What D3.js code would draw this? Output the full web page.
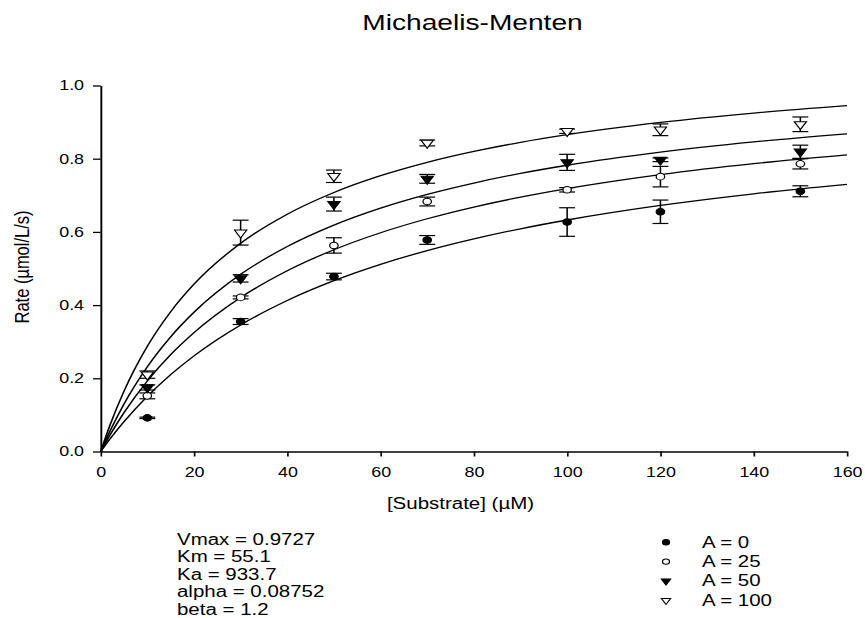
<!DOCTYPE html>
<html>
<head>
<meta charset="utf-8">
<script src="https://cdn.jsdelivr.net/npm/d3@7"></script>
<style>
  html, body { margin: 0; padding: 0; background: #fff; }
  svg { display: block; }
  text { font-family: "Liberation Sans", Arial, Helvetica, sans-serif; fill: #000; }
</style>
</head>
<body>
<div id="chart"></div>
<script>
// ---------- data ----------
const title = "Michaelis-Menten";
const xLabel = "[Substrate] (µM)";
const yLabel = "Rate (µmol/L/s)";
const xTicks = [0, 20, 40, 60, 80, 100, 120, 140, 160];
const yTicks = [0.0, 0.2, 0.4, 0.6, 0.8, 1.0];

const substrate = [10, 30, 50, 70, 100, 120, 150];
const rateA0   = [0.092, 0.355, 0.478, 0.578, 0.627, 0.655, 0.711];
const errA0    = [0.002, 0.008, 0.009, 0.012, 0.039, 0.032, 0.015];
const rateA25  = [0.152, 0.421, 0.563, 0.683, 0.715, 0.751, 0.786];
const errA25   = [0.008, 0.004, 0.021, 0.012, 0.006, 0.028, 0.014];
const rateA50  = [0.175, 0.473, 0.676, 0.745, 0.790, 0.797, 0.819];
const errA50   = [0.007, 0.010, 0.019, 0.012, 0.022, 0.005, 0.018];
const rateA100 = [0.210, 0.598, 0.752, 0.843, 0.875, 0.879, 0.894];
const errA100  = [0.010, 0.034, 0.017, 0.008, 0.006, 0.016, 0.020];

// fitted curves
const curveS   = [0, 2, 5, 10, 15, 20, 30, 40, 50, 60, 70, 80, 90, 100, 120, 140, 160];
const fitA0    = [0, 0.0344, 0.0816, 0.1507, 0.2099, 0.2613, 0.3458, 0.4126, 0.4667, 0.5114, 0.5489, 0.5809, 0.6085, 0.6325, 0.6723, 0.7040, 0.7297];
const fitA25   = [0, 0.0453, 0.1063, 0.1927, 0.2644, 0.3247, 0.4208, 0.4939, 0.5513, 0.5977, 0.6359, 0.6679, 0.6951, 0.7185, 0.7567, 0.7866, 0.8106];
const fitA50   = [0, 0.0561, 0.1300, 0.2317, 0.3134, 0.3804, 0.4840, 0.5602, 0.6187, 0.6650, 0.7026, 0.7336, 0.7598, 0.7821, 0.8180, 0.8458, 0.8680];
const fitA100  = [0, 0.0724, 0.1650, 0.2874, 0.3819, 0.4571, 0.5690, 0.6483, 0.7076, 0.7535, 0.7901, 0.8199, 0.8448, 0.8658, 0.8993, 0.9248, 0.9450];

const seriesNames = ["A = 0", "A = 25", "A = 50", "A = 100"];
const paramLines = ["Vmax = 0.9727", "Km = 55.1", "Ka = 933.7", "alpha = 0.08752", "beta = 1.2"];

// ---------- layout ----------
const W = 865, H = 618;
const SX = 1.28;               // the reference is horizontally stretched
const IW = W / SX;             // internal width
const sx = v => v / SX;        // screen x -> internal x

const svg = d3.select("#chart").append("svg")
  .attr("width", W).attr("height", H)
  .attr("viewBox", `0 0 ${IW} ${H}`)
  .attr("preserveAspectRatio", "none");

const x = d3.scaleLinear().domain([0, 160]).range([sx(100.7), sx(847)]);
const y = d3.scaleLinear().domain([0, 1]).range([451.5, 85.5]);

const series = [
  { name: seriesNames[0], rate: rateA0,   err: errA0,   fit: fitA0,   shape: "circle",   filled: true },
  { name: seriesNames[1], rate: rateA25,  err: errA25,  fit: fitA25,  shape: "circle",   filled: false },
  { name: seriesNames[2], rate: rateA50,  err: errA50,  fit: fitA50,  shape: "triangle", filled: true },
  { name: seriesNames[3], rate: rateA100, err: errA100, fit: fitA100, shape: "triangle", filled: false },
];

// ---------- title ----------
svg.append("text")
  .attr("x", sx(472.5)).attr("y", 30)
  .attr("text-anchor", "middle")
  .attr("font-size", 22)
  .text(title);

// ---------- axes ----------
const xAxis = svg.append("g")
  .attr("transform", `translate(0,${y(0)})`)
  .call(d3.axisBottom(x).tickValues(xTicks).tickSize(5).tickSizeOuter(0).tickPadding(11)
        .tickFormat(d3.format("d")));
const yAxis = svg.append("g")
  .attr("transform", `translate(${x(0)},0)`)
  .call(d3.axisLeft(y).tickValues(yTicks).tickSize(6).tickSizeOuter(0).tickPadding(7)
        .tickFormat(d3.format(".1f")));

[xAxis, yAxis].forEach(g => {
  g.selectAll("path.domain").attr("stroke", "#000").attr("stroke-width", 1.5);
  g.selectAll(".tick line").attr("stroke", "#000").attr("stroke-width", 1.3);
  g.selectAll(".tick text")
    .attr("font-size", 14)
    .attr("font-family", "Liberation Sans, Arial, sans-serif")
    .attr("fill", "#000");
});

// axis titles
svg.append("text")
  .attr("x", sx(460.5)).attr("y", 509)
  .attr("text-anchor", "middle")
  .attr("font-size", 16)
  .text(xLabel);

svg.append("text")
  .attr("transform", `translate(${sx(28.5)},267) rotate(-90)`)
  .attr("text-anchor", "middle")
  .attr("font-size", 16.5)
  .text(yLabel);

// ---------- curves ----------
const line = d3.line()
  .x((d, i) => x(curveS[i]))
  .y(d => y(d))
  .curve(d3.curveMonotoneX);

svg.append("g").selectAll("path")
  .data(series)
  .join("path")
  .attr("d", s => line(s.fit))
  .attr("fill", "none")
  .attr("stroke", "#000")
  .attr("stroke-width", 1.3);

// ---------- error bars & markers ----------
const capHalf = 6.2;
function triPath(w, h) {
  // downward triangle, centred on its centroid
  return `M${-w / 2},${-h / 3}L${w / 2},${-h / 3}L0,${2 * h / 3}Z`;
}
function drawMarker(g, s, cx, cy, small) {
  if (s.shape === "circle") {
    g.append("circle")
      .attr("cx", cx).attr("cy", cy)
      .attr("r", small ? 2.7 : 3.3)
      .attr("fill", s.filled ? "#000" : "#fff")
      .attr("stroke", "#000").attr("stroke-width", 1);
  } else {
    g.append("path")
      .attr("d", small ? triPath(7.2, 6) : triPath(9.6, 8))
      .attr("transform", `translate(${cx},${cy})`)
      .attr("fill", s.filled ? "#000" : "#fff")
      .attr("stroke", "#000").attr("stroke-width", 1);
  }
}

series.forEach(s => {
  const g = svg.append("g");
  substrate.forEach((sv, i) => {
    const cx = x(sv);
    const top = y(s.rate[i] + s.err[i]);
    const bot = y(s.rate[i] - s.err[i]);
    g.append("line").attr("x1", cx).attr("x2", cx).attr("y1", top).attr("y2", bot)
      .attr("stroke", "#000").attr("stroke-width", 1.2);
    [top, bot].forEach(yy => {
      g.append("line").attr("x1", cx - capHalf).attr("x2", cx + capHalf)
        .attr("y1", yy).attr("y2", yy)
        .attr("stroke", "#000").attr("stroke-width", 1.2);
    });
  });
});
series.forEach(s => {
  const g = svg.append("g");
  substrate.forEach((sv, i) => drawMarker(g, s, x(sv), y(s.rate[i]), false));
});

// ---------- parameter text ----------
const pg = svg.append("g");
paramLines.forEach((t, i) => {
  pg.append("text")
    .attr("x", sx(177)).attr("y", 545 + i * 17.4)
    .attr("font-size", 16)
    .text(t);
});

// ---------- legend ----------
const lg = svg.append("g");
series.forEach((s, i) => {
  const by = 547.7 + i * 19.4;
  drawMarker(lg, s, sx(666), by - 5.5, true);
  lg.append("text")
    .attr("x", sx(702)).attr("y", by)
    .attr("font-size", 16)
    .text(s.name);
});
</script>
</body>
</html>
